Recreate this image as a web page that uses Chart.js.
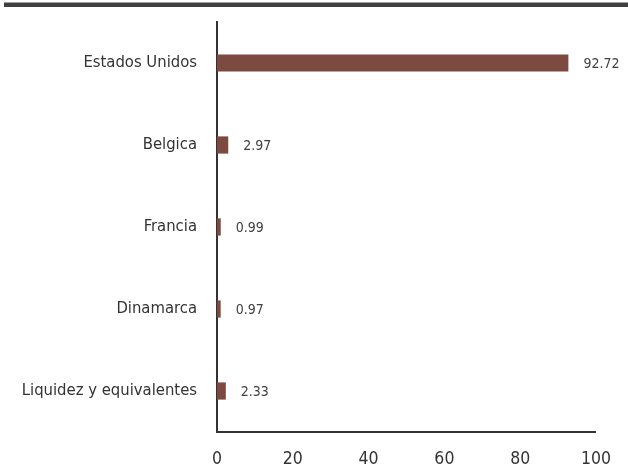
<!DOCTYPE html>
<html>
<head>
<meta charset="utf-8">
<script src="https://cdn.jsdelivr.net/npm/chart.js@4"></script>
<style>
html,body{margin:0;padding:0;background:#fff;}
#wrap{width:628px;height:470px;position:relative;}
</style>
</head>
<body>
<div id="wrap"><canvas id="c" width="628" height="470"></canvas></div>
<script>
const categories = ["Estados Unidos", "Belgica", "Francia", "Dinamarca", "Liquidez y equivalentes"];
const values = [92.72, 2.97, 0.99, 0.97, 2.33];
const xTicks = [0, 20, 40, 60, 80, 100];

const FONT = "'DejaVu Sans Condensed', 'Liberation Sans Narrow', sans-serif";

const topLine = {
  id: 'topLine',
  beforeDraw(chart) {
    const ctx = chart.ctx;
    ctx.save();
    ctx.fillStyle = '#404040';
    ctx.fillRect(4, 2.5, chart.width - 4, 4.5);
    ctx.restore();
  }
};

const valueLabels = {
  id: 'valueLabels',
  afterDatasetsDraw(chart) {
    const ctx = chart.ctx;
    const meta = chart.getDatasetMeta(0);
    ctx.save();
    ctx.font = "14px " + FONT;
    ctx.fillStyle = '#404040';
    ctx.textAlign = 'left';
    ctx.textBaseline = 'middle';
    meta.data.forEach((bar, i) => {
      ctx.fillText(values[i].toFixed(2), bar.x + 15, bar.y + 1);
    });
    ctx.restore();
  }
};

new Chart(document.getElementById('c'), {
  type: 'bar',
  data: {
    labels: categories,
    datasets: [{
      data: values,
      backgroundColor: '#7d4a42',
      borderWidth: 0,
      barPercentage: 0.21,
      categoryPercentage: 1.0
    }]
  },
  options: {
    indexAxis: 'y',
    responsive: false,
    animation: false,
    devicePixelRatio: 1,
    layout: { padding: { top: 22, right: 32, left: 0, bottom: 0 } },
    plugins: {
      legend: { display: false },
      tooltip: { enabled: false }
    },
    scales: {
      x: {
        min: 0,
        max: 100,
        afterBuildTicks(scale) { scale.ticks = xTicks.map(v => ({ value: v })); },
        afterFit(scale) { scale.height = 38; },
        grid: { display: false, drawTicks: false },
        border: { display: true, color: '#333333', width: 2 },
        ticks: {
          padding: 17,
          color: '#333333',
          font: { family: FONT, size: 17.5 },
          maxRotation: 0
        }
      },
      y: {
        afterFit(scale) {
          scale.width = 217;
          scale.paddingTop = 0;
          scale.paddingBottom = 0;
        },
        grid: { display: false, drawTicks: false },
        border: { display: true, color: '#333333', width: 2 },
        ticks: {
          padding: 20,
          color: '#333333',
          font: { family: FONT, size: 16.5 }
        }
      }
    }
  },
  plugins: [topLine, valueLabels]
});
</script>
</body>
</html>
